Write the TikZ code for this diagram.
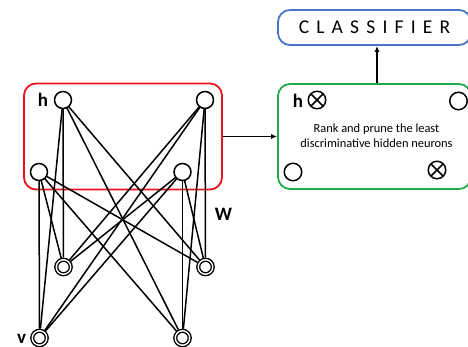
\documentclass[tikz,border=0pt]{standalone}
\usepackage{fontspec}
\setmainfont{Carlito}
\usetikzlibrary{arrows.meta}
\definecolor{boxred}{HTML}{E8141C}
\definecolor{boxgreen}{HTML}{1FAA4B}
\definecolor{boxblue}{HTML}{4A74C4}
\begin{document}
\begin{tikzpicture}[x=1pt,y=-1pt,
 hid/.style={circle,draw,line width=1.5pt,minimum size=17pt,inner sep=0pt,outer sep=0pt},
 vis/.style={circle,draw,double,line width=1.4pt,double distance=1.4pt,minimum size=14.5pt,inner sep=0pt,outer sep=2.1pt},
 wt/.style={line width=1.5pt},
 frame/.style={rectangle,rounded corners=12pt,line width=1.8pt,inner sep=0pt},
 lbl/.style={font=\fontsize{19}{19}\selectfont\bfseries,inner sep=0pt},
 arr/.style={line width=1.5pt,-{Latex[length=6pt,width=5pt]}}]
\useasboundingbox (0,0) rectangle (468,347);
% frames
\node[frame,draw=boxred,minimum width=198pt,minimum height=106pt] (rbox) at (123,136.5) {};
\node[frame,draw=boxgreen,minimum width=193pt,minimum height=105pt] (gbox) at (374.5,136.5) {};
\node[frame,draw=boxblue,minimum width=193pt,minimum height=35pt,font=\fontsize{19.5}{19.5}\selectfont] (cbox) at (374.5,27.5) {\spaceskip=7.2pt C L A S S I F I E R};
% network
\node[hid] (A) at (63,100) {};
\node[hid] (B) at (205,100) {};
\node[hid] (C) at (39,172) {};
\node[hid] (D) at (182.5,172) {};
\node[vis] (E) at (63.5,267) {};
\node[vis] (F) at (205.5,267) {};
\node[vis] (G) at (39.5,338) {};
\node[vis] (H) at (182.5,338) {};
\foreach \h in {A,B,C,D}{\foreach \v in {E,F,G,H}{\draw[wt] (\h) -- (\v);}}
\node[lbl] (hl) at (43,100) {h};
\node[lbl] (wl) at (223.5,214) {W};
\node[lbl] (vl) at (21.5,339) {v};
% green box content
\node[hid,minimum size=17.5pt] (g1) at (317,100) {};
\node[hid,minimum size=17.5pt] (g2) at (458.5,101) {};
\node[hid,minimum size=17.5pt] (g3) at (293,172) {};
\node[hid,minimum size=17.5pt] (g4) at (437,170) {};
\draw[wt] (g1.north east) -- (g1.south west) (g1.north west) -- (g1.south east);
\draw[wt] (g4.north east) -- (g4.south west) (g4.north west) -- (g4.south east);
\node[lbl] (hl2) at (298,100.5) {h};
\node[align=center,font=\fontsize{12.4}{15}\selectfont,inner sep=0pt] (txt) at (376.5,136) {Rank and prune the least\\discriminative hidden neurons};
% arrows
\draw[arr] (rbox.east) -- (gbox.west);
\draw[arr] ([xshift=2.5pt]gbox.north) -- ([xshift=2.5pt]cbox.south);
\end{tikzpicture}
\end{document}
